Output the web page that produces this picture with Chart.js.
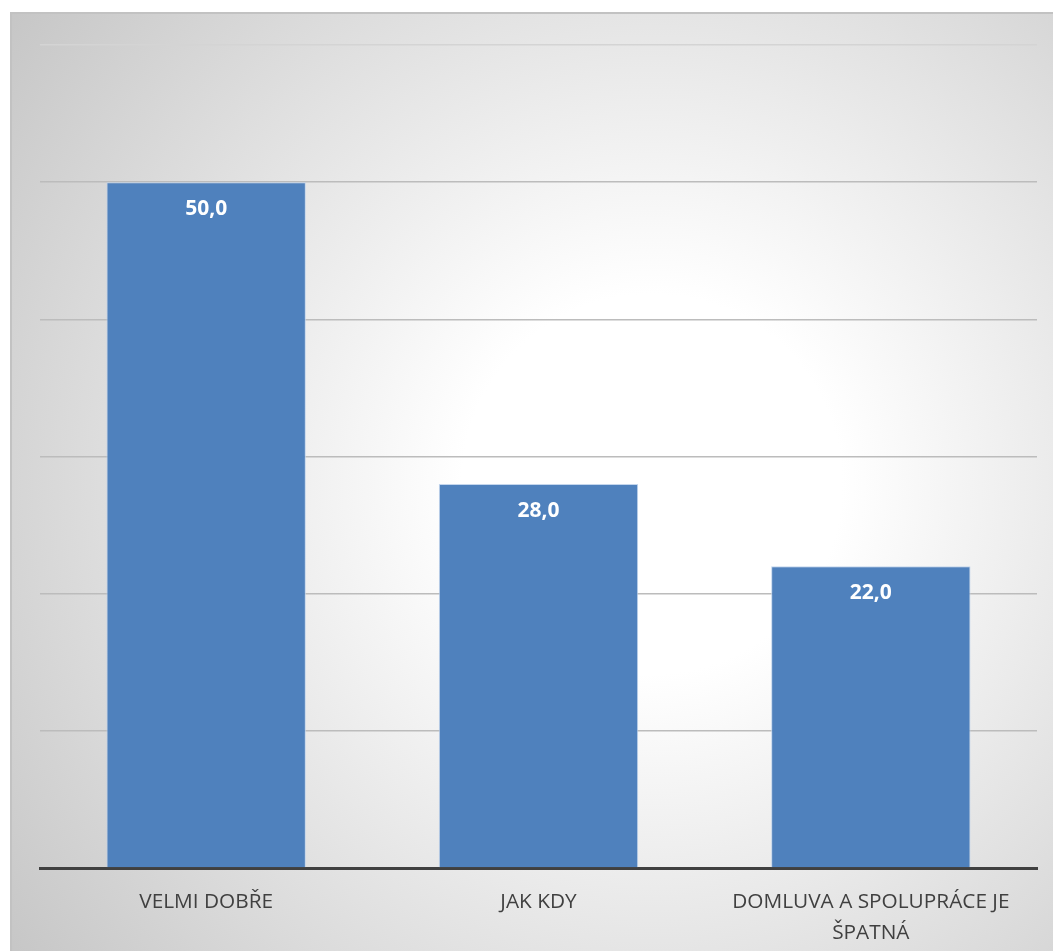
<!DOCTYPE html>
<html lang="cs">
<head>
<meta charset="utf-8">
<title>Domluva a spolupráce</title>
<script src="https://cdn.jsdelivr.net/npm/chart.js@4"></script>
<style>
    html, body { margin: 0; padding: 0; background: #fff; }
    #chartBox {
        position: absolute;
        left: 10px;
        top: 12px;
        width: 1043px;
        height: 939px;
        box-sizing: border-box;
        border-top: 2px solid #c2c2c2;
        border-left: 2px solid #c2c2c2;
        background: radial-gradient(circle 820px at 640px 470px, #ffffff 0px, #ffffff 190px, #c4c4c4 820px);
    }
    #chartBox canvas { position: absolute; left: 0; top: 0; }
</style>
</head>
<body>
<div id="chartBox"><canvas id="surveyChart"></canvas></div>
<script>
    const categories = [
        'VELMI DOBŘE',
        'JAK KDY',
        ['DOMLUVA A SPOLUPRÁCE JE', 'ŠPATNÁ']
    ];
    const values = [50.0, 28.0, 22.0];
    const yTicks = [0, 10, 20, 30, 40, 50, 60];

    // value labels inside the top of each bar, e.g. "50,0"
    const barValueLabels = {
        id: 'barValueLabels',
        afterDatasetsDraw(chart) {
            const ctx = chart.ctx;
            const meta = chart.getDatasetMeta(0);
            ctx.save();
            ctx.fillStyle = '#ffffff';
            ctx.font = 'bold 21px "Open Sans", sans-serif';
            ctx.textAlign = 'center';
            ctx.textBaseline = 'middle';
            meta.data.forEach((bar, i) => {
                const text = values[i].toFixed(1).replace('.', ',');
                ctx.fillText(text, bar.x, bar.y + 27);
            });
            ctx.restore();
        }
    };

    document.addEventListener('DOMContentLoaded', () => {
        const canvas = document.getElementById('surveyChart');
        new Chart(canvas.getContext('2d'), {
            type: 'bar',
            data: {
                labels: categories,
                datasets: [{
                    data: values,
                    backgroundColor: '#4f81bd',
                    borderColor: 'rgba(190, 210, 235, 0.9)',
                    borderWidth: { left: 1, right: 1, top: 1, bottom: 0 },
                    borderSkipped: 'bottom',
                    categoryPercentage: 1.0,
                    barPercentage: 0.6
                }]
            },
            options: {
                responsive: true,
                maintainAspectRatio: false,
                animation: false,
                layout: {
                    padding: { left: 28, top: 31, right: 16, bottom: 0 }
                },
                plugins: {
                    legend: { display: false },
                    title: { display: false },
                    tooltip: { enabled: false }
                },
                scales: {
                    x: {
                        grid: { display: false },
                        border: { display: true, color: '#404040', width: 3 },
                        ticks: {
                            color: '#404040',
                            font: { family: '"Open Sans", sans-serif', size: 20.8, lineHeight: 1.5 },
                            padding: 10,
                            maxRotation: 0,
                            autoSkip: false
                        },
                        afterFit(scale) { scale.height = 83; }
                    },
                    y: {
                        min: yTicks[0],
                        max: yTicks[yTicks.length - 1],
                        afterBuildTicks(scale) {
                            scale.ticks = yTicks.map(v => ({ value: v }));
                        },
                        ticks: { display: false },
                        border: { display: false },
                        grid: {
                            drawTicks: false,
                            lineWidth: 1.5,
                            color: c => {
                                if (c.tick.value === 0) return 'rgba(0,0,0,0)';
                                if (c.tick.value === 60) return '#d4d4d4';
                                return '#bcbcbc';
                            }
                        },
                        afterFit(scale) { scale.width = 0; }
                    }
                }
            },
            plugins: [barValueLabels]
        });
    });
</script>
</body>
</html>
